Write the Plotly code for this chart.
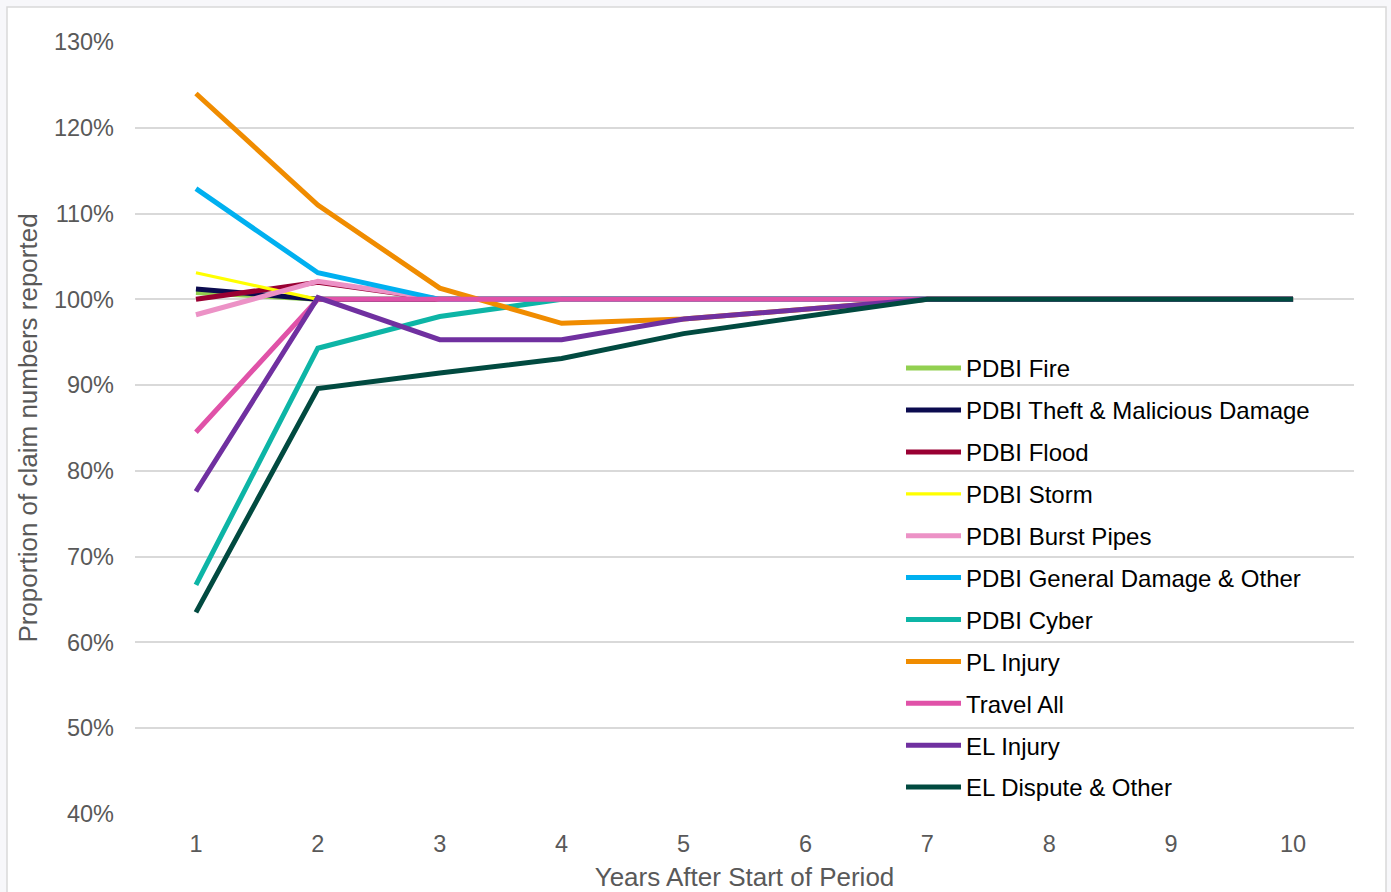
import plotly.graph_objects as go

# Development year (years after start of period)
years = [1, 2, 3, 4, 5, 6, 7, 8, 9, 10]

# Proportion of ultimate claim numbers reported, in percent
pdbi_fire = [100.8, 100, 100, 100, 100, 100, 100, 100, 100, 100]
pdbi_theft = [101.2, 100, 100, 100, 100, 100, 100, 100, 100, 100]
pdbi_flood = [100.0, 102.0, 100, 100, 100, 100, 100, 100, 100, 100]
pdbi_storm = [103.1, 100, 100, 100, 100, 100, 100, 100, 100, 100]
pdbi_burst = [98.2, 102.1, 100, 100, 100, 100, 100, 100, 100, 100]
pdbi_general = [112.9, 103.1, 100, 100, 100, 100, 100, 100, 100, 100]
pdbi_cyber = [66.7, 94.3, 98.0, 100, 100, 100, 100, 100, 100, 100]
pl_injury = [124.0, 111.0, 101.3, 97.2, 97.7, 98.9, 100, 100, 100, 100]
travel_all = [84.5, 100, 100, 100, 100, 100, 100, 100, 100, 100]
el_injury = [77.6, 100.2, 95.3, 95.3, 97.7, 98.9, 100, 100, 100, 100]
el_dispute = [63.5, 89.6, 91.4, 93.1, 96.0, 98.0, 100, 100, 100, 100]

series_names = [
    "PDBI Fire", "PDBI Theft & Malicious Damage", "PDBI Flood", "PDBI Storm",
    "PDBI Burst Pipes", "PDBI General Damage & Other", "PDBI Cyber",
    "PL Injury", "Travel All", "EL Injury", "EL Dispute & Other",
]
series_values = [
    pdbi_fire, pdbi_theft, pdbi_flood, pdbi_storm, pdbi_burst, pdbi_general,
    pdbi_cyber, pl_injury, travel_all, el_injury, el_dispute,
]
series_colors = [
    "#92D050", "#0B0B4F", "#990033", "#FFFF00", "#EC92C6", "#00B0F0",
    "#0DB5A6", "#F08C00", "#E052A8", "#7030A0", "#014A40",
]
series_widths = [5, 5, 5, 3.2, 5, 5, 5, 5, 5, 5, 5]

y_ticks = [40, 50, 60, 70, 80, 90, 100, 110, 120, 130]
y_tick_labels = [f"{v}%" for v in y_ticks]

FONT = "Liberation Sans, Arial, sans-serif"
GREY = "#595959"

fig = go.Figure()
for i, (name, vals, col, w) in enumerate(
        zip(series_names, series_values, series_colors, series_widths)):
    fig.add_trace(go.Scatter(
        x=years, y=vals, name=name, mode="lines",
        line=dict(color=col, width=w),
        legendgroup=f"g{i}",
    ))

# White chart card with a thin grey border
fig.add_shape(
    type="rect", xref="paper", yref="paper",
    x0=(7 - 135) / 1219, x1=(1386 - 135) / 1219,
    y0=-0.15, y1=(814 - 7) / 772,
    fillcolor="white", line=dict(color="#D9D9D9", width=1.5),
    layer="below",
)

fig.update_layout(
    width=1391, height=892,
    margin=dict(l=135, r=37, t=42, b=78),
    paper_bgcolor="#F7F7FA",
    plot_bgcolor="rgba(0,0,0,0)",
    font=dict(family=FONT, color=GREY, size=23),
    showlegend=True,
    legend=dict(
        x=(901 - 135) / 1219, y=(814 - 346) / 772,
        xanchor="left", yanchor="top",
        bgcolor="rgba(0,0,0,0)",
        font=dict(family=FONT, size=24, color="#000000"),
        tracegroupgap=7.7,
        itemwidth=55,
    ),
    xaxis=dict(
        range=[0.5, 10.5], tickvals=years, ticktext=[str(v) for v in years],
        showgrid=False, zeroline=False, showline=False, ticks="",
        tickfont=dict(size=23.5, color=GREY),
        ticklabelstandoff=13, automargin=False,
        title=dict(text="Years After Start of Period",
                   font=dict(size=26, color=GREY), standoff=18),
    ),
    yaxis=dict(
        range=[40, 130], tickvals=y_ticks, ticktext=y_tick_labels,
        showgrid=True, gridcolor="#D9D9D9", gridwidth=1.5,
        zeroline=False, showline=False, ticks="",
        tickfont=dict(size=23.5, color=GREY),
        ticklabelstandoff=20, automargin=False,
        title=dict(text="Proportion of claim numbers reported",
                   font=dict(size=26, color=GREY), standoff=8),
    ),
)

fig.write_html("out.html")
